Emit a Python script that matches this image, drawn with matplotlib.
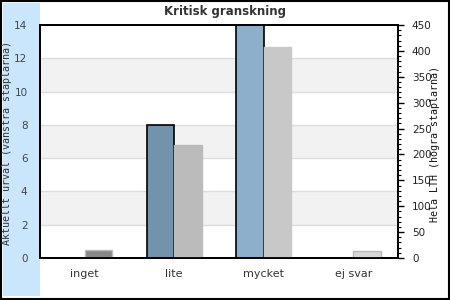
import matplotlib.pyplot as plt
import numpy as np
from matplotlib.patches import Rectangle
from matplotlib.ticker import MultipleLocator

categories = ["inget", "lite", "mycket", "ej svar"]
# left bars: current selection, right bars: whole LTH
aktuellt = [0, 8, 14, 0]
hela_lth = [15, 218, 407, 14]

left_colors = ["#7293ae", "#7293ae", "#8eafcb", "#8eafcb"]
right_colors = ["#888888", "#bbbbbb", "#c8c8c8", "#d8d8d8"]
right_edges = ["#bbbbbb", "#bbbbbb", "#c8c8c8", "#bbbbbb"]

fig = plt.figure(figsize=(4.5, 3), dpi=100)
# light blue strip on the left and outer frame
fig.patches.append(Rectangle((3 / 450, 4 / 300), 37 / 450, 293 / 300, transform=fig.transFigure,
                             facecolor="#c9e6fd", edgecolor="none", zorder=-10))
fig.patches.append(Rectangle((1 / 450, 1 / 300), 448 / 450, 298 / 300, transform=fig.transFigure,
                             facecolor="none", edgecolor="black", linewidth=1.5, zorder=-10))

ax = fig.add_axes([40 / 450, 42 / 300, 358 / 450, 233 / 300])
ax.set_facecolor("white")
x = np.arange(len(categories))
w = 0.31

# alternating background bands and grid lines
for lo in (2, 6, 10):
    ax.axhspan(lo, lo + 2, color="#f2f2f2", zorder=0, linewidth=0)
for y in range(2, 14, 2):
    ax.axhline(y, color="#dddddd", linewidth=1, zorder=0.5)

lw = [0 if v == 0 else 1.2 for v in aktuellt]
ax.bar(x - w / 2, aktuellt, w, color=left_colors, edgecolor="black", linewidth=lw, zorder=2)
ax.set_ylim(0, 14)
ax.set_xlim(-0.5, 3.5)
ax.yaxis.set_major_locator(MultipleLocator(2))
ax.tick_params(axis="y", length=0, pad=9, labelsize=7.5, labelcolor="#444444")
ax.tick_params(axis="x", length=0, pad=8, labelsize=8, labelcolor="#333333")
ax.set_xticks(x)
ax.set_xticklabels(categories)

ax2 = ax.twinx()
ax2.bar(x + w / 2, hela_lth, w, color=right_colors, edgecolor=right_edges, linewidth=1, zorder=2)
ax2.set_ylim(0, 450)
ax2.yaxis.set_major_locator(MultipleLocator(50))
ax2.yaxis.set_minor_locator(MultipleLocator(10))
ax2.tick_params(axis="y", which="major", length=4, width=1, pad=6, labelsize=7.5, labelcolor="#222222")
ax2.tick_params(axis="y", which="minor", length=2, width=0.8)

for a in (ax, ax2):
    for s in a.spines.values():
        s.set_linewidth(1.3)
        s.set_color("black")

fig.text(7 / 450, 1 - 143 / 300, "Aktuellt urval (vänstra staplarna)", rotation=90,
         ha="center", va="center", family="DejaVu Sans Mono", fontsize=7.2, color="#333333")
fig.text(435 / 450, 1 - 144 / 300, "Hela LTH (högra staplarna)", rotation=90,
         ha="center", va="center", family="DejaVu Sans Mono", fontsize=7.2, color="#111111")
fig.text(225 / 450, 1 - 12 / 300, "Kritisk granskning", ha="center", va="center",
         fontsize=8.5, fontweight="bold", color="#333333")

fig.savefig("out.png", dpi=100)
